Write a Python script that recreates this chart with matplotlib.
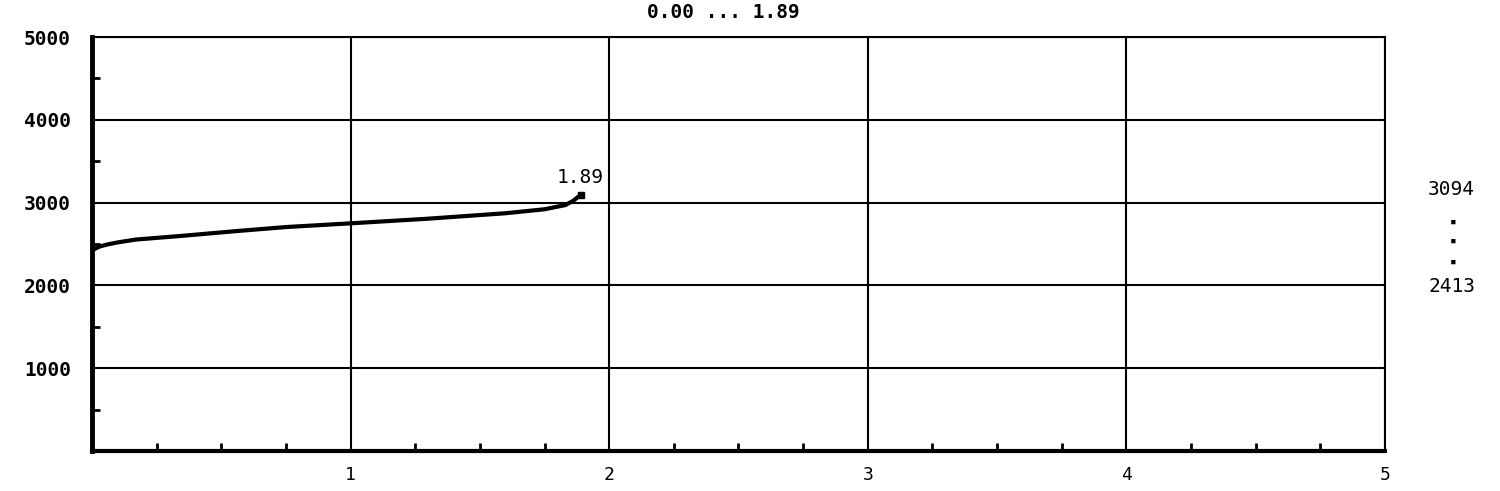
import matplotlib
matplotlib.use("Agg")
import matplotlib.pyplot as plt
from matplotlib.ticker import MultipleLocator

# curve
x = [0.0, 0.01, 0.03, 0.06, 0.10, 0.17, 0.36, 0.55, 0.75, 1.00, 1.29, 1.60, 1.75, 1.83, 1.86, 1.89]
y = [2413, 2440, 2470, 2495, 2520, 2554, 2602, 2654, 2705, 2750, 2804, 2872, 2920, 2970, 3020, 3094]

x_ticks = [1, 2, 3, 4, 5]
y_ticks = [1000, 2000, 3000, 4000, 5000]
title = "0.00 ... 1.89"
end_label = "1.89"
range_max = "3094"
range_min = "2413"

mono = "DejaVu Sans Mono"

fig = plt.figure(figsize=(15, 4.91), dpi=100)
ax = fig.add_axes([0.0613, 0.0815, 0.862, 0.843])

ax.plot(x, y, color="black", lw=3, solid_capstyle="butt")
ax.plot(x[-1], y[-1], marker="s", ms=5, color="black")

ax.set_xlim(0, 5)
ax.set_ylim(0, 5000)
ax.set_xticks(x_ticks)
ax.set_yticks(y_ticks)
ax.set_xticklabels([str(v) for v in x_ticks], fontfamily=mono, fontsize=13)
ax.set_yticklabels([str(v) for v in y_ticks], fontfamily=mono, fontsize=14, fontweight="bold")
ax.xaxis.set_minor_locator(MultipleLocator(0.25))
ax.yaxis.set_minor_locator(MultipleLocator(500))
ax.tick_params(which="major", length=0)
ax.tick_params(axis="x", which="major", pad=11)
ax.tick_params(axis="y", which="major", pad=15)
ax.tick_params(which="minor", direction="in", length=6, width=2, color="black")

ax.grid(True, which="major", color="black", lw=1.5)

ax.spines["left"].set_linewidth(3.5)
ax.spines["bottom"].set_linewidth(3)
ax.spines["top"].set_linewidth(1.5)
ax.spines["right"].set_linewidth(1.5)

ax.text(1.98, 3300, end_label, ha="right", va="center", fontfamily=mono, fontsize=14)

fig.text(647 / 1500, 1 - 12 / 491, title, ha="left", va="center",
         fontfamily=mono, fontsize=14, fontweight="bold")
fig.text(1428 / 1500, 1 - 190 / 491, range_max, ha="left", va="center",
         fontfamily=mono, fontsize=14)
fig.text(1428 / 1500, 1 - 287 / 491, range_min, ha="left", va="center",
         fontfamily=mono, fontsize=14)
for py in [222, 241, 262]:
    fig.text(1453 / 1500, 1 - py / 491, "\u25aa", ha="center", va="center",
             fontfamily=mono, fontsize=8)

fig.savefig("out.png", dpi=100, facecolor="white")
